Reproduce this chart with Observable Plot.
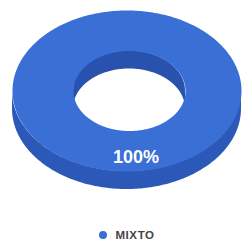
<!DOCTYPE html>
<html><head><meta charset="utf-8">
<script src="https://cdn.jsdelivr.net/npm/d3@7"></script>
<script src="https://cdn.jsdelivr.net/npm/@observablehq/plot@0.6"></script>
<style>
html,body{margin:0;padding:0;background:#fff;overflow:hidden;}
#legend{display:flex;justify-content:center;align-items:center;height:22px;padding-top:4px;padding-left:8px;font-family:"Liberation Sans",Arial,sans-serif;font-weight:bold;font-size:11.5px;letter-spacing:0.6px;color:#444;}
#legend .dot{width:8px;height:8px;border-radius:50%;margin-right:8px;}
</style></head><body><div id="chart"></div><div id="legend"></div><script>
const categories = ["MIXTO"];
const values = [100];
const valueLabels = ["100%"];
const colors = ["#3a6fd6"];
const sideColors = ["#2c59b8"];
const innerColors = ["#2952ae"];

const W = 246, H = 220;
const cx = 126.5, cy = 90.5, rx = 114.5, ry = 80.5;
const icx = 129, icy = 90.5, irx = 56, iry = 40;
const depth = 18;

const pieSlices = d3.pie().sort(null)(values);
const N = 180;
function sample(a0, a1) {
  const out = [];
  const n = Math.max(2, Math.ceil(N * (a1 - a0) / Math.PI));
  for (let i = 0; i <= n; i++) out.push(a0 + (a1 - a0) * i / n);
  return out;
}
const topPts = [], sidePts = [], innerPts = [], labelPts = [];
pieSlices.forEach((s, i) => {
  const g = categories[i];
  sample(s.startAngle, s.endAngle).forEach(a => topPts.push({g, x: cx + rx * Math.sin(a), y: cy - ry * Math.cos(a)}));
  sample(s.startAngle, s.endAngle).reverse().forEach(a => topPts.push({g, x: icx + irx * Math.sin(a), y: icy - iry * Math.cos(a)}));
  const f0 = Math.max(s.startAngle, Math.PI / 2), f1 = Math.min(s.endAngle, 3 * Math.PI / 2);
  if (f1 > f0) sample(f0, f1).forEach(a => {
    const y = cy - ry * Math.cos(a);
    sidePts.push({g, x: cx + rx * Math.sin(a), y1: y, y2: y + depth});
  });
  const b = [[Math.max(s.startAngle, 0), Math.min(s.endAngle, Math.PI / 2)], [Math.max(s.startAngle, 3 * Math.PI / 2), Math.min(s.endAngle, 2 * Math.PI)]];
  b.forEach(([a0, a1]) => {
    if (a1 > a0) sample(a0, a1).forEach(a => {
      const y = icy - iry * Math.cos(a);
      innerPts.push({g, x: icx + irx * Math.sin(a), y1: y, y2: y + depth});
    });
  });
  const mid = (s.startAngle + s.endAngle) / 2;
  labelPts.push({g, text: valueLabels[i], x: cx + (rx + irx) / 2 * Math.sin(mid), y: cy - (ry + iry) / 2 * Math.cos(mid)});
});
innerPts.sort((a, b) => a.x - b.x);

const chart = Plot.plot({
  width: W, height: H,
  margin: 0,
  x: {domain: [0, W], range: [0, W], axis: null},
  y: {domain: [0, H], range: [0, H], axis: null},
  marks: [
    Plot.areaY(sidePts, {x: "x", y1: "y1", y2: "y2", z: "g", fill: d => sideColors[categories.indexOf(d.g)], curve: "linear"}),
    Plot.areaY(innerPts, {x: "x", y1: "y1", y2: "y2", z: "g", fill: d => innerColors[categories.indexOf(d.g)], curve: "linear"}),
    Plot.line(topPts, {x: "x", y: "y", z: "g", fill: d => colors[categories.indexOf(d.g)], stroke: null, curve: "linear"}),
    Plot.text(labelPts, {x: "x", y: "y", text: "text", fill: "white", fontSize: 18, fontWeight: "bold", fontFamily: "Liberation Sans, Arial, sans-serif", dx: 9, dy: 6})
  ]
});
document.getElementById("chart").appendChild(chart);

const legend = document.getElementById("legend");
categories.forEach((c, i) => {
  const dot = document.createElement("span");
  dot.className = "dot";
  dot.style.background = colors[i];
  const t = document.createElement("span");
  t.textContent = c;
  legend.appendChild(dot);
  legend.appendChild(t);
});
</script></body></html>
